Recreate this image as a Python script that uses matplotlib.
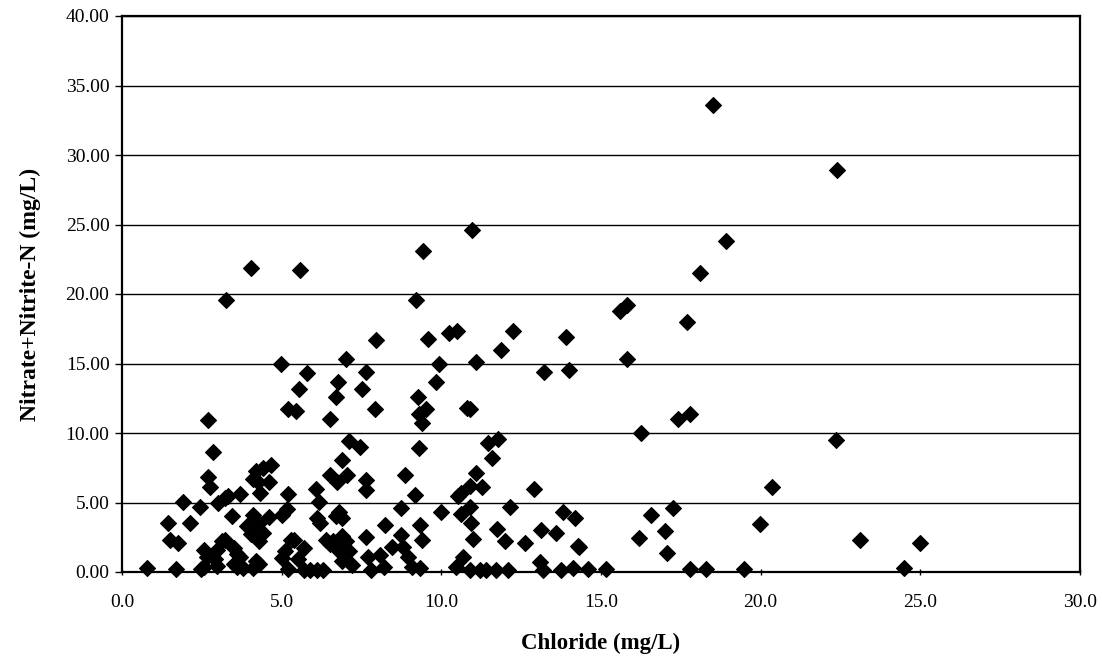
import matplotlib
matplotlib.use("Agg")
import matplotlib.pyplot as plt

chloride = [
    18.5, 22.4, 18.9, 18.1, 15.8, 15.6, 17.7, 15.8, 14.0, 13.9, 13.2,
    10.96, 9.43, 4.04, 5.57, 3.25, 9.2,
    7.95, 9.59, 10.24, 10.49, 12.25, 11.88,
    4.98, 7.03, 9.93, 11.08,
    5.78, 7.64, 6.76, 9.83, 5.54, 7.53, 6.7, 9.27,
    5.19, 5.45, 7.92, 9.3, 9.53, 10.8, 10.9,
    9.38, 6.5, 2.7, 17.41, 17.78, 16.26, 22.35,
    7.1, 7.45, 9.3, 11.46, 11.78, 11.59, 2.86,
    6.88, 4.68, 4.21, 4.42, 6.51, 7.05, 8.86, 11.1,
    4.1, 4.25, 4.6, 2.7, 2.75, 6.72, 7.64, 7.64, 20.36, 10.89, 11.26, 12.9, 6.06,
    4.32, 3.32, 3.22, 3.69, 5.2, 9.17, 10.63, 10.53,
    3.0, 1.92, 6.17, 2.44, 5.16, 8.75, 10.89, 12.14, 17.26, 10.0, 13.81, 14.18, 16.58,
    3.43, 5.0, 4.1, 4.6, 10.63, 6.1, 6.7, 6.8, 6.9,
    4.2, 4.3, 2.13, 1.45, 6.2, 8.23, 9.33, 10.94, 19.97, 11.73, 13.13, 16.99, 3.9,
    13.6, 4.05, 4.4, 8.75, 7.64, 16.19, 11.0, 9.38, 1.5, 1.76, 3.13, 3.24, 5.3, 5.4,
    6.4, 6.6, 6.9, 4.3, 11.99, 12.61, 23.1, 25.0, 14.28, 14.32, 6.5, 7.0,
    8.44, 8.8, 5.7, 2.56, 2.98, 6.8, 7.1, 5.1, 3.5, 17.07, 3.6, 8.07, 7.7, 8.96,
    10.68, 2.67, 5.0, 3.7, 2.9, 5.5, 13.08, 4.2, 4.3, 3.5,
    0.77, 1.7, 2.46, 2.56, 2.98, 3.6, 3.8, 4.1, 5.2, 5.7, 5.9, 6.1, 6.3, 7.8,
    8.2, 9.07, 9.33, 10.47, 10.9, 11.2, 11.4, 11.7, 12.09, 13.18, 13.76, 14.13,
    14.6, 15.17, 17.78, 18.28, 19.47, 24.5, 7.2, 6.9,
]

nitrate = [
    33.6, 28.9, 23.8, 21.5, 19.2, 18.8, 18.0, 15.3, 14.5, 16.9, 14.4,
    24.6, 23.1, 21.9, 21.7, 19.6, 19.6,
    16.7, 16.74, 17.2, 17.36, 17.36, 15.97,
    14.96, 15.3, 14.96, 15.13,
    14.3, 14.4, 13.7, 13.7, 13.2, 13.2, 12.6, 12.6,
    11.7, 11.6, 11.7, 11.4, 11.7, 11.8, 11.7,
    10.7, 11.0, 10.9, 10.98, 11.35, 9.97, 9.5,
    9.4, 8.97, 8.9, 9.3, 9.6, 8.2, 8.66,
    8.06, 7.7, 7.3, 7.5, 7.0, 7.0, 6.98, 7.1,
    6.7, 6.5, 6.5, 6.8, 6.1, 6.5, 6.6, 5.9, 6.14, 6.2, 6.1, 5.95, 6.0,
    5.7, 5.5, 5.3, 5.6, 5.6, 5.54, 5.66, 5.5,
    4.95, 5.06, 5.06, 4.7, 4.5, 4.6, 4.7, 4.7, 4.6, 4.34, 4.3, 3.86, 4.1,
    4.03, 4.1, 4.1, 3.97, 4.2, 3.9, 4.0, 4.3, 3.9,
    3.5, 3.5, 3.5, 3.5, 3.5, 3.4, 3.4, 3.5, 3.45, 3.1, 3.0, 2.95, 3.3,
    2.78, 2.7, 2.8, 2.66, 2.54, 2.47, 2.4, 2.3, 2.3, 2.1, 2.2, 2.3, 2.3, 2.3,
    2.3, 2.2, 2.6, 2.2, 2.2, 2.07, 2.3, 2.1, 1.9, 1.78, 2.0, 2.2,
    1.8, 1.8, 1.75, 1.6, 1.6, 1.5, 1.5, 1.5, 1.7, 1.34, 1.3, 1.22, 1.1, 1.1,
    1.1, 1.1, 1.0, 1.1, 0.9, 0.9, 0.75, 0.8, 0.6, 0.6,
    0.27, 0.2, 0.2, 0.34, 0.45, 0.35, 0.3, 0.3, 0.2, 0.15, 0.15, 0.15, 0.15, 0.16,
    0.38, 0.38, 0.26, 0.38, 0.15, 0.15, 0.15, 0.15, 0.15, 0.15, 0.15, 0.26,
    0.19, 0.19, 0.19, 0.19, 0.19, 0.3, 0.5, 0.8,
]

x_ticks = [0, 5, 10, 15, 20, 25, 30]
y_ticks = [0, 5, 10, 15, 20, 25, 30, 35, 40]

plt.rcParams['font.family'] = ['Liberation Serif', 'DejaVu Serif']

fig = plt.figure(figsize=(11.02, 6.62), dpi=100)
ax = fig.add_axes([122/1102, 1 - 572/662, (1080 - 122)/1102, (572 - 16)/662])

ax.scatter(chloride, nitrate, marker='D', s=66, c='black', edgecolors='black',
           linewidths=0.8, zorder=3, clip_on=False)

ax.set_xlim(0, 30)
ax.set_ylim(0, 40)
ax.set_xticks(x_ticks)
ax.set_xticklabels([f"{v:.1f}" for v in x_ticks])
ax.set_yticks(y_ticks)
ax.set_yticklabels([f"{v:.2f}" for v in y_ticks])
ax.yaxis.grid(True, color='black', linewidth=1.0)
ax.set_axisbelow(True)
for sp in ax.spines.values():
    sp.set_linewidth(1.6)
    sp.set_color('black')
ax.tick_params(axis='both', labelsize=14, colors='black', width=1.0, length=5)
ax.tick_params(axis='x', direction='inout', pad=13)
ax.tick_params(axis='y', direction='out', pad=4)

ax.set_xlabel("Chloride (mg/L)", fontsize=16.5, fontweight='bold', labelpad=16)
ax.set_ylabel("Nitrate+Nitrite-N (mg/L)", fontsize=17, fontweight='bold', labelpad=18)

fig.savefig("out.png", dpi=100)
